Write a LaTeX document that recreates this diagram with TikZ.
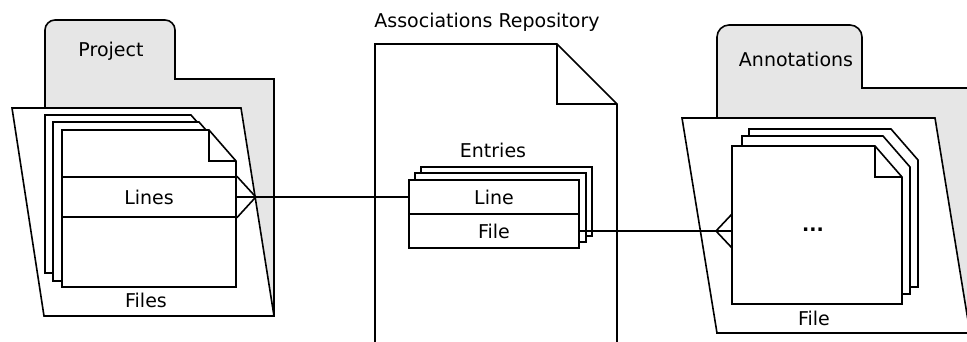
\documentclass[tikz,border=0pt]{standalone}
\usepackage{fontspec}
\setmainfont{DejaVu Sans}
\usetikzlibrary{calc}
\definecolor{foldergray}{RGB}{230,230,230}

% a sheet of paper with a dog-eared top right corner: x, y, width, height
\newcommand\docsheet[4]{%
  \draw[sheet] (#1,#2) -- (#1+#3-27,#2) -- (#1+#3,#2+31) -- (#1+#3,#2+#4)
    -- (#1,#2+#4) -- cycle;}
% the folded-over flap of the top sheet
\newcommand\docfold[3]{%
  \draw (#1+#3-27,#2) -- (#1+#3-27,#2+31) -- (#1+#3,#2+31);}

\begin{document}
\begin{tikzpicture}[x=1pt, y=-1pt, line width=1.6pt, line join=miter,
  every node/.style={font=\fontsize{19}{22}\selectfont, inner sep=0pt},
  folderback/.style={draw, fill=foldergray},
  folderfront/.style={draw, fill=white},
  sheet/.style={draw, fill=white},
  compartment/.style={draw, fill=white, minimum width=#1, minimum height=34},
  label/.style={anchor=base}]

\useasboundingbox (0,0) rectangle (967,342);

% ---------------- Project folder ----------------
\draw[folderback] (45,316) -- (45,30) .. controls (45,24.5) and (49.5,20) .. (55,20)
  -- (165,20) .. controls (170.5,20) and (175,24.5) .. (175,30)
  -- (175,79) -- (274,79) -- (274,316) -- cycle;
\node[label] (projlbl) at (111,57) {Project};
\draw[folderfront] (12,108) -- (241,108) -- (274,316) -- (44,316) -- cycle;

\docsheet{45}{115}{173}{158}
\docsheet{53}{122}{173}{159}
\docsheet{62}{130}{174}{157}
\docfold{62}{130}{174}
\node[compartment=174, minimum height=40] (lines) at (149,197) {Lines};
\node[label] (fileslbl) at (146,307) {Files};

% ---------------- Associations repository ----------------
\node[label] (repolbl) at (487,28) {Associations Repository};
\draw[sheet] (375,360) -- (375,44) -- (557,44) -- (617,104) -- (617,360);
\draw (557,44) -- (557,104) -- (617,104);

\node[label] (entlbl) at (493,158) {Entries};
\draw[sheet] (421,167) rectangle (592,236);
\draw[sheet] (415,173) rectangle (586,242);
\node[compartment=170] (entline) at (494,197) {Line};
\node[compartment=170] (entfile) at (494,231) {File};

% ---------------- Annotations folder ----------------
\draw[folderback] (717,333) -- (717,37) .. controls (717,30.5) and (722.5,25) .. (729,25)
  -- (850,25) .. controls (856.5,25) and (862,30.5) .. (862,37)
  -- (862,88) -- (1000,88) -- (1000,333) -- cycle;
\node[label] (annlbl) at (796,67) {Annotations};
\draw[folderfront] (682,118) -- (935,118) -- (970,333) -- (717,333) -- cycle;

\docsheet{749}{129}{169}{158}
\docsheet{742}{136}{168}{158}
\docsheet{732}{146}{170}{158}
\docfold{732}{146}{170}
\node[label, font=\bfseries\fontsize{19}{22}\selectfont] (dots) at (813,231) {...};
\node[label] (annfilelbl) at (814,325) {File};
\coordinate (annin) at (732,231);

% ---------------- connectors ----------------
\coordinate (pjfoot) at ($(lines.east)+(19,0)$);
\draw (lines.east) -- (entline.west);
\draw (lines.north east) -- (pjfoot) -- (lines.south east);

\coordinate (annfoot) at ($(annin)+(-16,0)$);
\draw (entfile.east) -- (annin);
\draw ($(annin)+(0,-17)$) -- (annfoot) -- ($(annin)+(0,17)$);
\end{tikzpicture}
\end{document}
